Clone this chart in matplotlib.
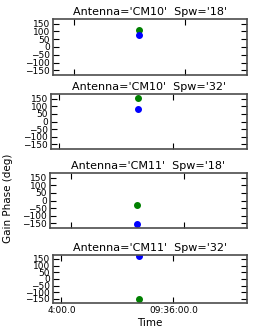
import datetime as dt
import matplotlib
matplotlib.use("Agg")
import matplotlib.pyplot as plt
import matplotlib.dates as mdates

# values
antennas = ["CM10", "CM10", "CM11", "CM11"]
spws = ["18", "32", "18", "32"]
times = ["09:35:10", "09:35:23", "09:35:10", "09:35:23"]
blue_phase = [77, 83, -151, 173]
green_phase = [111, 152, -32, -153]
xtick_times = ["09:34:00", "09:36:00"]
xtick_labels = ["4:00.0", "09:36:00.0"]
ytick_vals = [-150, -100, -50, 0, 50, 100, 150]

day = dt.date(2000, 1, 1)

def to_dt(s):
    return dt.datetime.combine(day, dt.datetime.strptime(s, "%H:%M:%S").time())

W, H = 255.0, 331.0
# axes boxes in pixels: left, top, right, bottom
boxes = [(53, 19, 247, 75), (51, 94, 247, 149), (50, 173, 247, 228), (53, 255, 247, 303)]

fig = plt.figure(figsize=(2.55, 3.31), dpi=100)
fig.patch.set_facecolor("white")

for i in range(4):
    l, t, r, b = boxes[i]
    ax = fig.add_axes([l / W, 1 - b / H, (r - l) / W, (b - t) / H])
    tm = to_dt(times[i])
    ax.plot([tm], [green_phase[i]], "o", color="green", ms=4, mec="green")
    ax.plot([tm], [blue_phase[i]], "o", color="blue", ms=4, mec="blue")
    ax.set_xlim(tm - dt.timedelta(seconds=92), tm + dt.timedelta(seconds=116))
    ax.set_ylim(-180, 180)
    ax.set_yticks(ytick_vals)
    ax.set_yticklabels([str(v).replace("-", "\u2212") for v in ytick_vals], fontsize=6.5)
    ax.set_xticks([mdates.date2num(to_dt(s)) for s in xtick_times])
    if i == 3:
        ax.set_xticklabels(xtick_labels, fontsize=6.5)
        ax.set_xlabel("Time", fontsize=7.5, labelpad=2)
    else:
        ax.set_xticklabels([])
    ax.tick_params(direction="in", top=True, right=True, length=4, width=0.8, pad=2)
    for sp in ax.spines.values():
        sp.set_color("0.3")
        sp.set_linewidth(1.2)
    ax.set_title("Antenna='%s'  Spw='%s'" % (antennas[i], spws[i]), fontsize=8, pad=3)

fig.text(8 / W, 1 - 198 / H, "Gain Phase (deg)", rotation=90, ha="center", va="center", fontsize=7.5)

fig.savefig("out.png", dpi=100)
